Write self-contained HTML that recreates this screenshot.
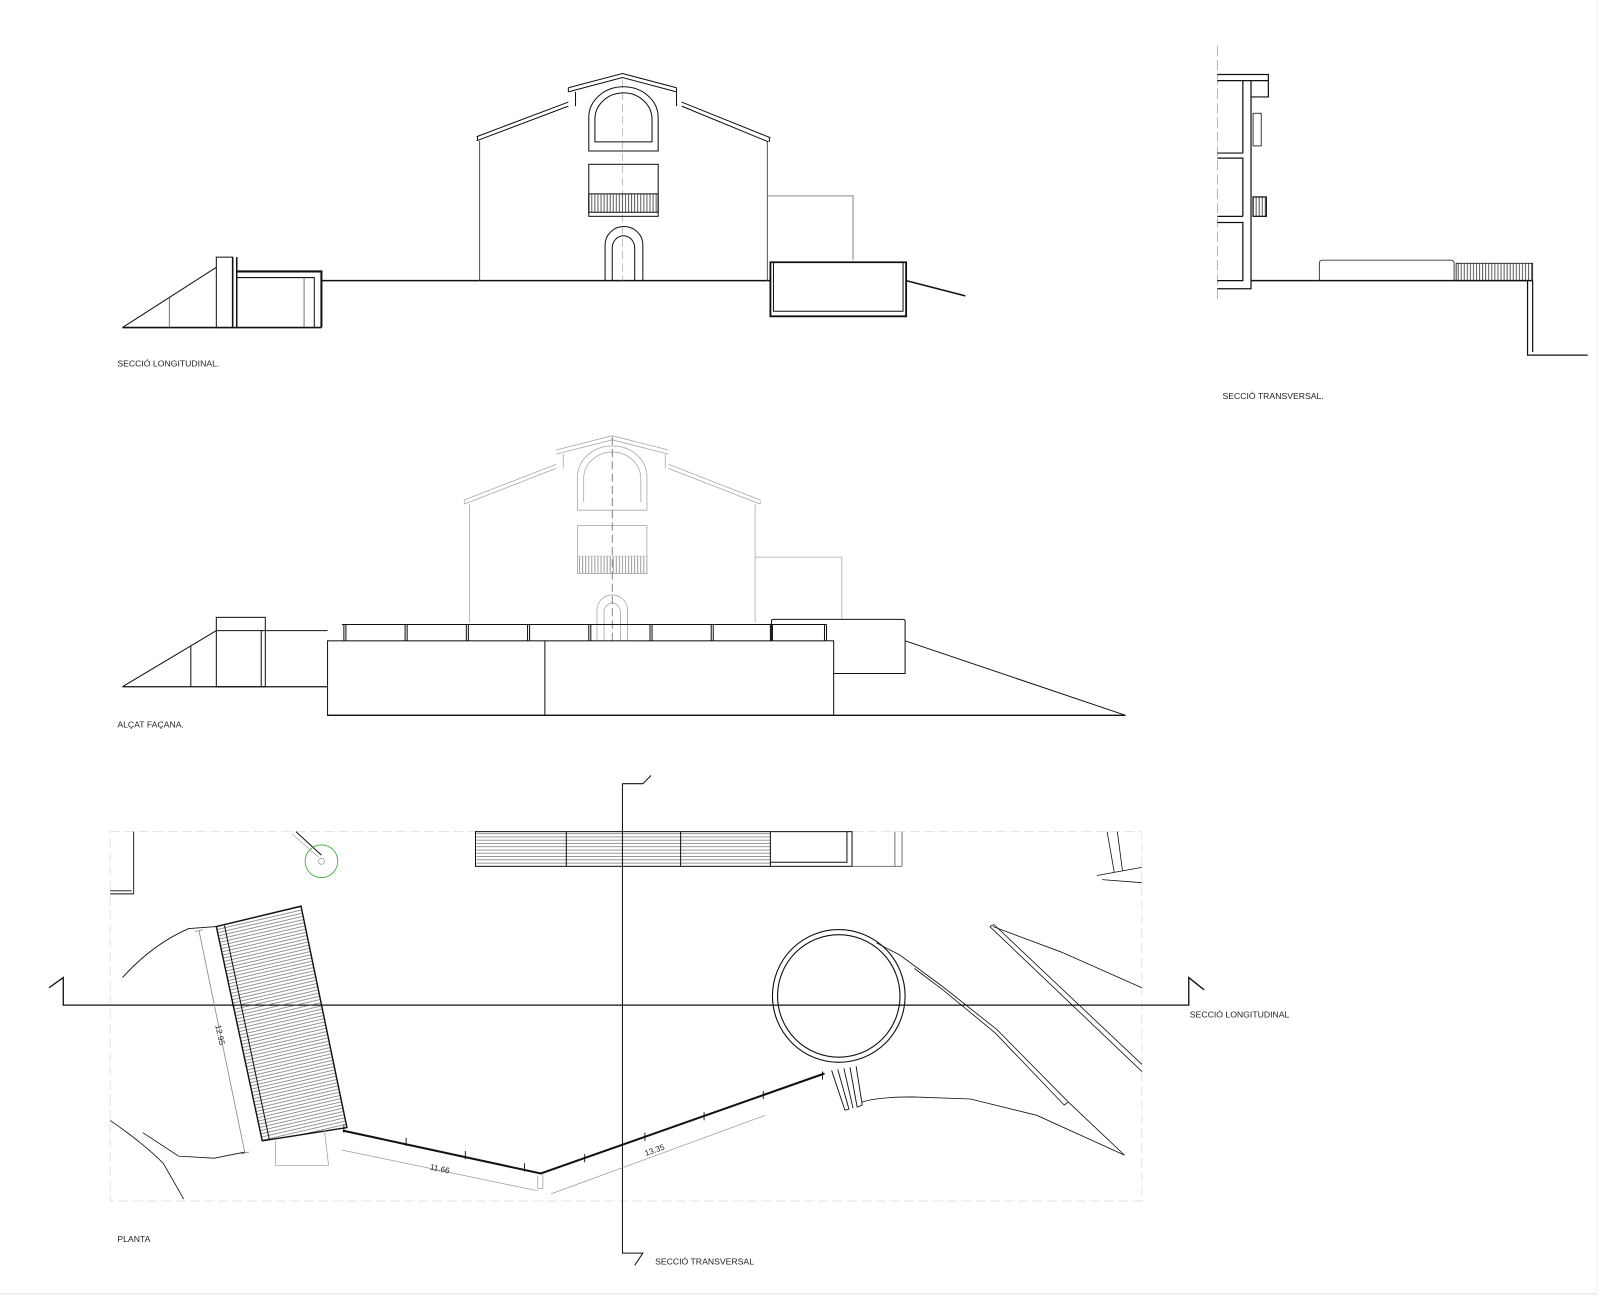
<!DOCTYPE html>
<html><head><meta charset="utf-8"><style>
html,body{margin:0;padding:0;background:#fff;}
svg{display:block;}
text{font-family:"Liberation Sans",sans-serif;fill:#222;}
</style></head><body>
<svg width="1600" height="1299" viewBox="0 0 1568 1273" preserveAspectRatio="none" xmlns="http://www.w3.org/2000/svg">
<defs>
<pattern id="vh" width="3" height="10" patternUnits="userSpaceOnUse"><line x1="1" y1="0" x2="1" y2="10" stroke="#333" stroke-width="0.8"/></pattern>
<pattern id="hh" width="10" height="3.2" patternUnits="userSpaceOnUse"><line x1="0" y1="1" x2="10" y2="1" stroke="#555" stroke-width="0.6"/></pattern>
<pattern id="hh2" width="10" height="3.2" patternUnits="userSpaceOnUse" patternTransform="rotate(-13)"><line x1="0" y1="1" x2="10" y2="1" stroke="#555" stroke-width="0.6"/></pattern>
</defs>
<rect x="0" y="0" width="1568" height="1273" fill="#fff"/>
<line x1="0" y1="1268" x2="1565" y2="1268" stroke="#ddd" stroke-width="1"/>
<line x1="1565" y1="0" x2="1565" y2="1268" stroke="#eee" stroke-width="1"/>

<!-- ===== SECCIO LONGITUDINAL ===== -->
<g fill="none" stroke="#111" stroke-width="1">
<line x1="120" y1="321" x2="212" y2="262"/>
<line x1="166" y1="292" x2="166" y2="321" stroke="#777"/>
<rect x="212" y="252" width="16" height="69"/>
<path d="M228 252 V321 M232 252 V321" stroke-width="1.5"/>
<path d="M232 266 H315 V321" stroke-width="2"/>
<path d="M232 272 H308 V321"/>
<line x1="298" y1="272" x2="298" y2="321" stroke="#777"/>
<line x1="120" y1="321" x2="315" y2="321" stroke-width="1.5"/>
<line x1="315" y1="275" x2="755" y2="275" stroke-width="1.5"/>
<path d="M470 275 V138 M752 275 V138" stroke="#555"/>
<path d="M467 134 L557 100 M467 138 L557 104 M468 134 V138"/>
<path d="M755 135 L668 100 M753 139 L668 104 M754 135 V139"/>
<path d="M557 86 L610 72 L663 86 M557 90 L610 76 L663 90 M557 86 V90 M663 86 V90"/>
<path d="M564 90 V104 M663 90 V104"/>
<line x1="610" y1="78" x2="610" y2="275" stroke="#999" stroke-dasharray="8,4" stroke-width="0.6"/>
<path d="M577 148 V115 A34 30 0 0 1 645 115 V148 Z"/>
<path d="M583 139 V117 A28 26 0 0 1 639 117 V139 Z"/>
<rect x="577" y="161" width="68" height="51"/>
<rect x="577" y="190" width="68" height="18" fill="url(#vh)"/>
<path d="M593 275 V240 A18.5 18 0 0 1 630 240 V275"/>
<path d="M600 275 V243 A11 12 0 0 1 622 243 V275"/>
<path d="M752 192 H836 V255" stroke="#888"/>
<path d="M755 257 H888 V310 H755 Z" stroke-width="1.8"/>
<path d="M758 257 V305 H885 V257" stroke-width="1"/>
<line x1="888" y1="275" x2="946" y2="290" stroke-width="1.5"/>
</g>
<text x="115" y="359" font-size="8.5">SECCIÓ LONGITUDINAL.</text>

<!-- ===== SECCIO TRANSVERSAL ===== -->
<g fill="none" stroke="#111" stroke-width="1.2">
<line x1="1193" y1="45" x2="1193" y2="297" stroke="#999" stroke-dasharray="10,4" stroke-width="0.7"/>
<path d="M1193 73 H1243 V80 M1193 79 H1243 M1226 79 V95 H1243 V80"/>
<path d="M1218 79 V150 M1226 95 V275"/>
<path d="M1193 150 H1218 M1193 155 H1218 V212 M1193 212 H1218 M1193 218 H1218 V275 H1193 M1193 283 H1226 V275"/>
<rect x="1228" y="111" width="8" height="32" stroke-width="0.8"/>
<rect x="1228" y="193" width="13" height="19" fill="url(#vh)"/>
<line x1="1226" y1="275" x2="1502" y2="275" stroke-width="1.5"/>
<path d="M1293 275 V258 Q1293 255 1296 255 H1422 Q1425 255 1425 258 V275" stroke="#333" stroke-width="0.9"/>
<rect x="1427" y="258" width="75" height="17" fill="url(#vh)" stroke-width="0.8"/>
<path d="M1497 275 V348 H1556 M1502 275 V345" stroke-width="1.2"/>
</g>
<text x="1198" y="391" font-size="8.5">SECCIÓ TRANSVERSAL.</text>

<!-- ===== ALCAT FACANA ===== -->
<g fill="none" stroke="#aaa" stroke-width="0.8">
<path d="M455 490 L545 455 M455 494 L545 459 M455 490 V494"/>
<path d="M745 490 L655 455 M745 494 L655 459 M745 490 V494"/>
<path d="M545 441 L600 427 L655 441 M545 445 L600 431 L655 445"/>
<path d="M552 445 V459 M652 445 V459"/>
<path d="M460 494 V610 M740 494 V610"/>
<path d="M566 500 V467 A34 30 0 0 1 634 467 V500 Z"/>
<path d="M572 492 V469 A28 26 0 0 1 628 469 V492"/>
<rect x="566" y="515" width="68" height="47"/>
<rect x="566" y="545" width="68" height="17" fill="url(#vh)" stroke="#aaa" opacity="0.6"/>
<path d="M585 628 V598 A15 15 0 0 1 615 598 V628"/>
<path d="M592 628 V600 A8 9 0 0 1 608 600 V628"/>
<path d="M740 546 H825 V607"/>
<line x1="600" y1="428" x2="600" y2="628" stroke="#666" stroke-dasharray="8,4"/>
</g>
<g fill="none" stroke="#111" stroke-width="1">
<line x1="120" y1="673" x2="212" y2="618"/>
<line x1="187" y1="633" x2="187" y2="673"/>
<rect x="212" y="605" width="48" height="68"/>
<line x1="212" y1="618" x2="260" y2="618"/>
<line x1="256" y1="618" x2="256" y2="673"/>
<line x1="260" y1="618" x2="321" y2="618"/>
<line x1="120" y1="673" x2="321" y2="673" stroke-width="1.3"/>
<rect x="321" y="628" width="496" height="73"/>
<line x1="534" y1="628" x2="534" y2="701"/>
<path d="M335 612 H810 M337 628 V612 M339 628 V612 M397 628 V612 M399 628 V612 M457 628 V612 M459 628 V612 M517 628 V612 M519 628 V612 M577 628 V612 M579 628 V612 M637 628 V612 M639 628 V612 M697 628 V612 M699 628 V612 M755 628 V612 M757 628 V612 M808 628 V612 M810 628 V612"/>
<path d="M756 628 V609 Q756 607 758 607 H885 Q887 607 887 609 V660 H817"/>
<path d="M887 628 L1103 701"/>
<line x1="321" y1="701" x2="1103" y2="701" stroke-width="1.3"/>
</g>
<text x="115" y="713" font-size="8.5">ALÇAT FAÇANA.</text>

<!-- ===== PLANTA ===== -->
<rect x="108" y="815" width="1011" height="362" fill="none" stroke="#ddd" stroke-width="0.8" stroke-dasharray="10,4"/>
<g fill="none" stroke="#111" stroke-width="1">
<rect x="466" y="815" width="369" height="34"/>
<rect x="467" y="816" width="288" height="32" fill="url(#hh)" stroke="none"/>
<path d="M555 815 V849 M667 815 V849 M755 815 V849"/>
<path d="M755 845 H830 V815"/>
<path d="M835 849 H884 M877 815 V849 M884 815 V849" stroke="#777"/>
<path d="M131 815 V876 M108 876 H131 M108 873 H129" stroke-width="0.9"/>
<line x1="290" y1="815" x2="315" y2="838" stroke-width="1"/>
<line x1="286" y1="817" x2="312" y2="840" stroke="#999" stroke-width="0.6"/>
<circle cx="315" cy="844" r="16" stroke="#3a3" stroke-width="0.8"/>
<circle cx="315" cy="844" r="3" stroke="#888" stroke-width="0.6"/>
<path d="M1085 815 L1092 855 M1095 815 L1100 853 M1075 858 L1119 850 M1080 862 L1119 865" stroke-width="0.8"/>
<path d="M610 768 H630 L638 760 M610 768 V1228 H630 L622 1240" stroke-width="1"/>
<path d="M48 968 L62 958 V985 H1165 V958 L1180 970" stroke-width="1.3"/>
<polygon points="212,908 295,888 340,1105 257,1118" fill="url(#hh2)" stroke-width="1.4"/>
<line x1="220" y1="907" x2="264" y2="1117"/>
<path d="M195 912 L240 1130 M191 913 L199 911 M236 1131 L244 1129" stroke="#888" stroke-width="0.8"/>
<path d="M120 958 Q150 925 185 910 L212 908" stroke-width="0.9"/>
<path d="M108 1098 Q140 1120 160 1140 L180 1175" stroke-width="0.8"/>
<path d="M140 1110 L175 1133 L210 1135 L240 1129" stroke-width="0.8"/>
<path d="M270 1118 V1142 H322 L318 1108" stroke="#999" stroke-width="0.7"/>
<path d="M336 1108 L530 1150 L808 1052" stroke-width="2"/>
<path d="M337 1102 v8 M398 1115 v8 M456 1128 v8 M514 1140 v8 M573 1131 v8 M632 1110 v8 M690 1090 v8 M748 1069 v8 M806 1050 v8" stroke-width="0.9"/>
<path d="M527 1152 V1165 H532 V1150" stroke="#999" stroke-width="0.7"/>
<path d="M335 1127 L527 1167 M540 1170 L750 1093" stroke="#999" stroke-width="0.7"/>
<circle cx="822" cy="976" r="65" stroke-width="1.1"/>
<circle cx="822" cy="976" r="60" stroke-width="1.1"/>
<path d="M815 1049 L828 1088 M821 1048 L832 1087 M827 1047 L836 1086 M833 1046 L840 1085 M839 1045 L845 1083 M828 1088 L832 1087 M840 1085 L845 1083" stroke-width="0.9"/>
<path d="M845 1080 Q860 1075 895 1075 L951 1077 L1016 1093 L1102 1132" stroke-width="0.8"/>
<path d="M859 924 L882 936 L924 967 L977 1009 L1047 1080 L1102 1132" stroke-width="0.8"/>
<path d="M896 949 L924 970 L975 1012 L1043 1083 L1047 1080" stroke-width="0.8"/>
<path d="M970 908 L1119 1050 M974 906 L1119 1043 M970 908 L974 906" stroke-width="0.8"/>
<path d="M973 908 L1040 933 L1119 968" stroke-width="0.8"/>
</g>
<text x="0" y="0" font-size="8" transform="translate(211,1005) rotate(78)">12.95</text>
<text x="0" y="0" font-size="8" transform="translate(421,1146) rotate(12)">11.66</text>
<text x="0" y="0" font-size="8" transform="translate(633,1133) rotate(-20)">13.35</text>
<text x="115" y="1217" font-size="8.5">PLANTA</text>
<text x="1166" y="997" font-size="8.5">SECCIÓ LONGITUDINAL</text>
<text x="642" y="1239" font-size="8.5">SECCIÓ TRANSVERSAL</text>
</svg>
</body></html>
